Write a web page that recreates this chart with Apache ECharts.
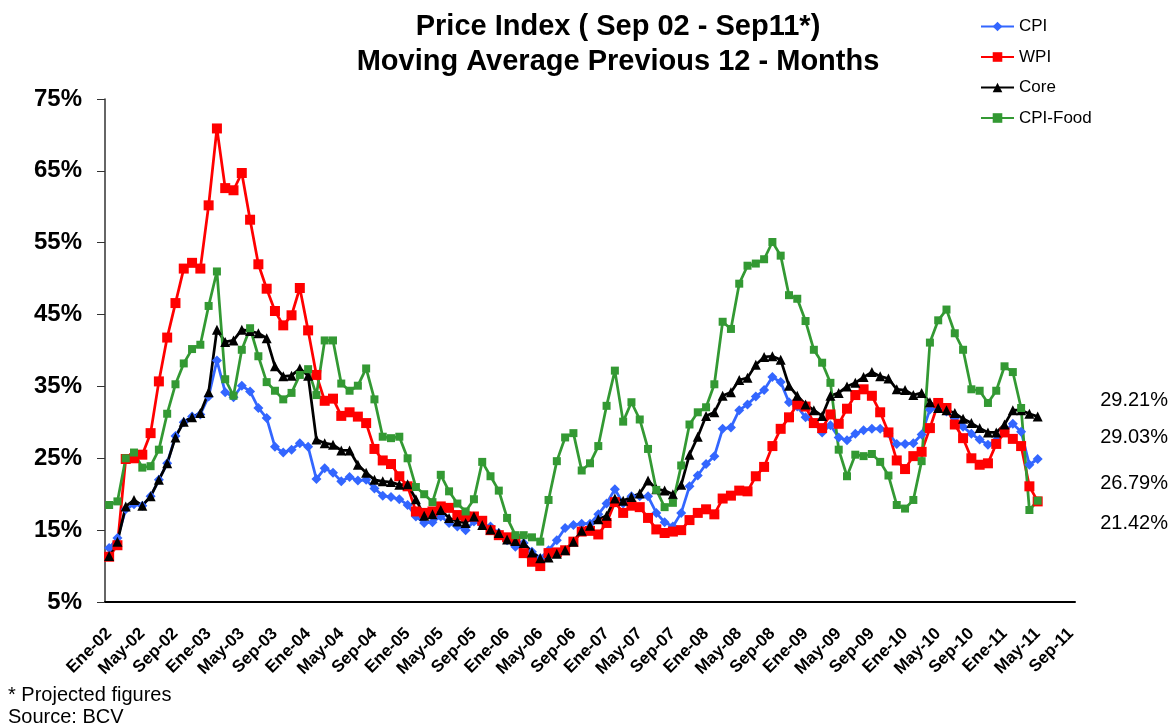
<!DOCTYPE html>
<html>
<head>
<meta charset="utf-8">
<script src="https://cdn.jsdelivr.net/npm/echarts@6/dist/echarts.min.js"></script>
<style>
  html, body { margin: 0; padding: 0; background: #fff; }
  #chart { width: 1173px; height: 725px; }
</style>
</head>
<body>
<div id="chart"></div>
<script>
// month names (Spanish) and years of the category axis, Ene-02 .. Sep-11
const monthNames = ["Ene", "Feb", "Mar", "Abr", "May", "Jun", "Jul", "Ago", "Sep", "Oct", "Nov", "Dic"];
const years = ["02", "03", "04", "05", "06", "07", "08", "09", "10", "11"];
const lastMonthCount = 9; // 2011 runs to Sep

// 12-month moving average, % (Ene-02 .. May-11)
const cpi = [
  12.5, 13.9, 17.9, 18.6, 18.4, 19.7, 22.0, 24.3, 28.1, 30.0,
  30.8, 31.1, 33.6, 38.6, 34.2, 33.5, 35.1, 34.3, 32.0, 30.6,
  26.6, 25.8, 26.2, 27.1, 26.6, 22.1, 23.6, 23.0, 21.8, 22.4,
  21.9, 22.0, 20.8, 19.8, 19.6, 19.3, 18.5, 16.9, 16.0, 16.1,
  16.9, 16.0, 15.5, 15.0, 16.2, 15.7, 15.5, 14.6, 13.6, 12.7,
  13.2, 12.0, 11.1, 12.2, 13.6, 15.3, 15.7, 15.9, 15.9, 17.2,
  18.7, 20.7, 18.7, 19.7, 19.7, 19.7, 17.4, 16.1, 15.5, 17.4,
  21.1, 22.6, 24.2, 25.3, 29.1, 29.3, 31.7, 32.5, 33.6, 34.5,
  36.3, 35.6, 32.8, 32.2, 30.7, 29.9, 28.6, 29.6, 27.9, 27.5,
  28.4, 28.9, 29.1, 29.1, 28.5, 27.0, 27.0, 27.1, 28.3, 31.8,
  32.0, 31.5, 30.6, 29.4, 28.4, 27.6, 26.9, 27.5, 28.7, 29.8,
  28.7, 24.1, 24.9
];
const wpi = [
  11.3, 12.9, 24.9, 25.0, 25.5, 28.5, 35.7, 41.8, 46.6, 51.4,
  52.2, 51.4, 60.2, 70.9, 62.6, 62.3, 64.7, 58.2, 52.0, 48.6,
  45.5, 43.5, 44.9, 48.7, 42.8, 36.6, 33.0, 33.3, 30.9, 31.4,
  30.8, 29.9, 26.3, 24.7, 24.2, 22.5, 21.1, 17.6, 17.4, 17.6,
  18.3, 18.1, 17.1, 16.9, 16.9, 16.3, 15.0, 14.3, 14.0, 13.5,
  11.8, 10.6, 10.0, 11.8, 11.9, 12.2, 13.4, 14.8, 14.9, 14.4,
  16.0, 18.9, 17.4, 18.4, 18.2, 16.7, 15.1, 14.6, 14.8, 15.0,
  16.4, 17.4, 17.9, 17.2, 19.4, 19.8, 20.5, 20.4, 22.5, 23.8,
  26.7, 29.1, 30.7, 32.5, 32.2, 29.9, 29.2, 31.1, 29.8, 31.9,
  33.8, 34.6, 33.7, 31.4, 28.6, 24.7, 23.5, 25.3, 25.9, 29.2,
  32.7, 32.0, 29.7, 27.8, 25.0, 24.1, 24.3, 27.0, 28.6, 27.7,
  26.7, 21.1, 19.0
];
const core = [
  11.4, 13.4, 18.3, 19.2, 18.4, 19.7, 22.0, 24.3, 27.9, 30.1,
  30.7, 31.3, 34.2, 42.9, 41.2, 41.4, 42.9, 42.7, 42.4, 41.7,
  37.8, 36.4, 36.5, 37.5, 36.5, 27.6, 27.1, 26.9, 26.1, 26.1,
  24.1, 23.0, 22.0, 21.8, 21.7, 21.3, 21.4, 19.3, 17.0, 17.2,
  17.8, 16.7, 16.2, 16.0, 16.9, 15.7, 15.1, 14.6, 13.7, 13.5,
  13.2, 11.9, 11.1, 11.2, 11.7, 12.2, 13.4, 14.9, 15.6, 16.5,
  17.0, 19.4, 19.1, 19.6, 20.1, 21.9, 20.7, 20.5, 20.0, 21.3,
  25.5, 28.0, 30.9, 31.4, 33.7, 34.2, 35.9, 36.2, 38.0, 39.1,
  39.2, 38.7, 35.1, 33.7, 32.5, 31.7, 30.9, 33.7, 34.1, 35.0,
  35.5, 36.3, 37.0, 36.4, 36.1, 34.6, 34.5, 33.8, 34.1, 32.8,
  32.0, 31.7, 31.3, 30.5, 29.9, 29.2, 28.6, 28.6, 29.7, 31.7,
  31.7, 31.2, 30.8
];
const cpiFood = [
  18.5, 19.0, 25.0, 25.8, 23.7, 23.9, 26.2, 31.2, 35.3, 38.2,
  40.2, 40.8, 46.2, 51.0, 36.0, 33.7, 40.1, 43.1, 39.2, 35.6,
  34.4, 33.2, 34.1, 36.6, 37.4, 33.8, 41.4, 41.4, 35.4, 34.4,
  35.1, 37.5, 33.2, 28.0, 27.8, 28.0, 25.0, 21.0, 20.0, 18.9,
  22.7, 20.4, 18.7, 17.6, 19.3, 24.5, 22.5, 20.5, 16.7, 14.3,
  14.3, 14.0, 13.4, 19.2, 24.6, 27.9, 28.5, 23.3, 24.3, 26.7,
  32.3, 37.2, 30.1, 32.8, 30.4, 26.3, 20.6, 18.2, 18.8, 24.0,
  29.7, 31.4, 32.1, 35.3, 44.0, 43.0, 49.3, 51.8, 52.1, 52.7,
  55.1, 53.2, 47.7, 47.2, 44.1, 40.1, 38.3, 35.5, 26.2, 22.5,
  25.5, 25.3, 25.6, 24.5, 22.6, 18.5, 18.0, 19.2, 24.6, 41.1,
  44.2, 45.7, 42.4, 40.1, 34.6, 34.4, 32.7, 34.4, 37.8, 37.0,
  32.0, 17.8, 19.1
];

// projected figures printed at the right side
const projectedLabels = ["29.21%", "29.03%", "26.79%", "21.42%"];
const projectedLabelY = [400, 437, 483, 523];

const categories = [];
years.forEach((y, i) => {
  const n = i === years.length - 1 ? lastMonthCount : 12;
  for (let k = 0; k < n; k++) categories.push(monthNames[k] + "-" + y);
});

const font = "Liberation Sans, Arial, sans-serif";

const makeSeries = (name, data, color, symbol, size) => ({
  name: name,
  type: "line",
  data: data,
  symbol: symbol,
  symbolSize: size,
  showAllSymbol: true,
  lineStyle: { color: color, width: 2.75 },
  itemStyle: { color: color },
  emphasis: { disabled: true },
});

const chart = echarts.init(document.getElementById("chart"));
chart.setOption({
  animation: false,
  title: {
    text: "Price Index ( Sep 02 - Sep11*)\nMoving Average Previous 12 - Months",
    left: 618,
    top: 9,
    textAlign: "center",
    padding: 0,
    textStyle: {
      fontFamily: font,
      fontSize: 29,
      fontWeight: "bold",
      lineHeight: 35,
      color: "#000",
    },
  },
  legend: {
    orient: "vertical",
    left: 975,
    top: 13,
    itemWidth: 33,
    itemHeight: 12,
    itemGap: 13.5,
    textStyle: { fontFamily: font, fontSize: 17, lineHeight: 17, color: "#000" },
    data: ["CPI", "WPI", "Core", "CPI-Food"],
  },
  grid: {
    left: 105,
    right: 98,
    top: 99,
    bottom: 123,
  },
  xAxis: {
    type: "category",
    data: categories,
    boundaryGap: true,
    axisLine: { lineStyle: { color: "#000", width: 2 } },
    axisTick: { interval: 3, length: 5, lineStyle: { color: "#000", width: 1 } },
    axisLabel: {
      interval: 3,
      rotate: 45,
      margin: 29,
      fontFamily: font,
      fontSize: 17,
      fontWeight: "bold",
      color: "#000",
    },
    splitLine: { show: false },
  },
  yAxis: {
    type: "value",
    min: 5,
    max: 75,
    interval: 10,
    axisLine: { show: true, lineStyle: { color: "#333", width: 1.5 } },
    axisTick: { show: true, length: 8, lineStyle: { color: "#333" } },
    axisLabel: {
      formatter: "{value}%",
      margin: 23,
      fontFamily: font,
      fontSize: 24,
      fontWeight: "bold",
      color: "#000",
    },
    splitLine: { show: false },
  },
  series: [
    makeSeries("CPI", cpi, "#3366ff", "diamond", 10),
    makeSeries("WPI", wpi, "#ff0000", "rect", 10),
    makeSeries("Core", core, "#000000", "triangle", 10),
    makeSeries("CPI-Food", cpiFood, "#339933", "rect", 8),
  ],
  graphic: [
    ...projectedLabels.map((t, i) => ({
      type: "text",
      right: 5,
      top: projectedLabelY[i] - 10,
      style: { text: t, fontFamily: font, fontSize: 20, fill: "#000" },
    })),
    {
      type: "text",
      left: 8,
      top: 684,
      style: {
        text: "* Projected figures\nSource: BCV",
        fontFamily: font,
        fontSize: 20,
        lineHeight: 22,
        fill: "#000",
      },
    },
  ],
});
</script>
</body>
</html>
